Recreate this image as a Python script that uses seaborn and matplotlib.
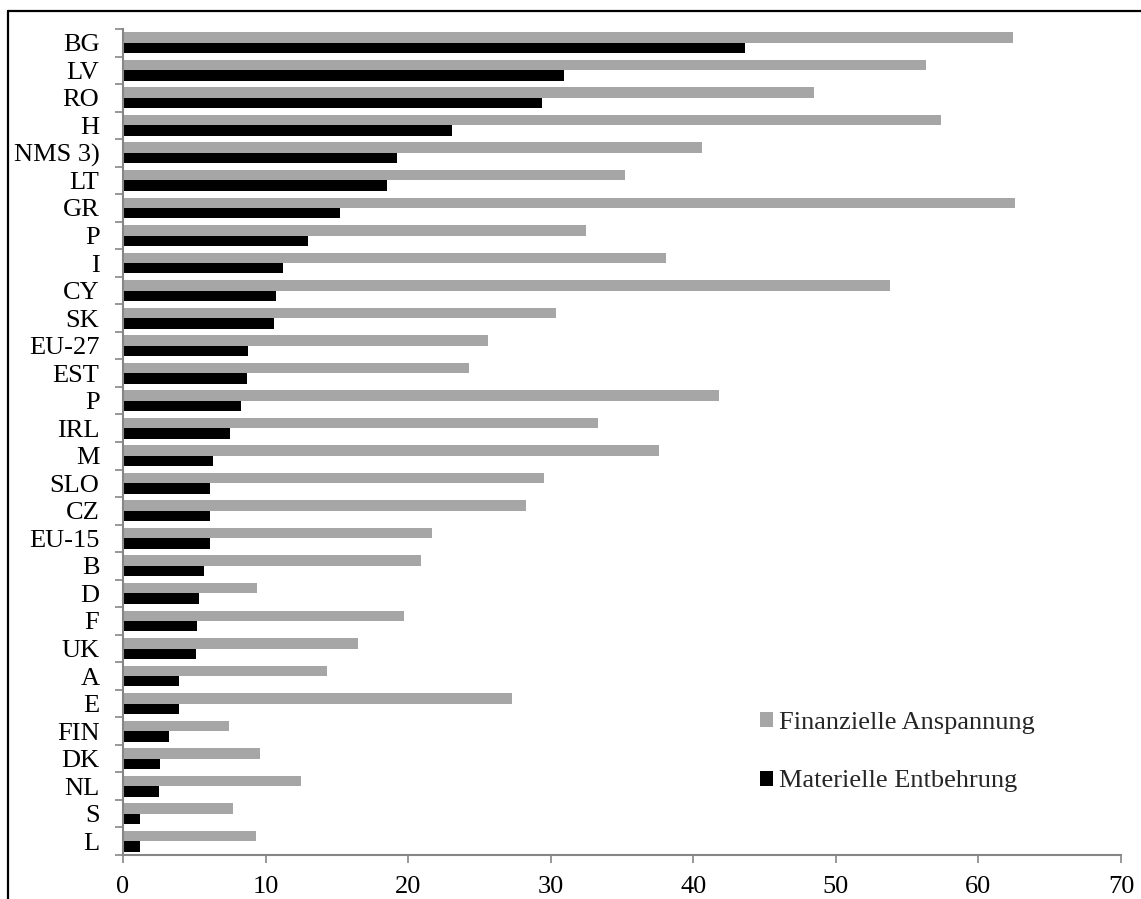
import numpy as np
import pandas as pd
import matplotlib
matplotlib.use("Agg")
import matplotlib.pyplot as plt
import seaborn as sns
from matplotlib.patches import Patch
from matplotlib.lines import Line2D

# Countries from top to bottom
countries = ["BG", "LV", "RO", "H", "NMS 3)", "LT", "GR", "P", "I", "CY",
             "SK", "EU-27", "EST", "P", "IRL", "M", "SLO", "CZ", "EU-15", "B",
             "D", "F", "UK", "A", "E", "FIN", "DK", "NL", "S", "L"]

# Shares in percent
finanzielle = [62.4, 56.3, 48.5, 57.4, 40.6, 35.2, 62.6, 32.5, 38.1, 53.8,
               30.4, 25.6, 24.3, 41.8, 33.3, 37.6, 29.5, 28.3, 21.7, 20.9,
               9.4, 19.7, 16.5, 14.3, 27.3, 7.4, 9.6, 12.5, 7.7, 9.3]
materielle = [43.6, 30.9, 29.4, 23.1, 19.2, 18.5, 15.2, 13.0, 11.2, 10.7,
              10.6, 8.8, 8.7, 8.3, 7.5, 6.3, 6.1, 6.1, 6.1, 5.7,
              5.3, 5.2, 5.1, 3.9, 3.9, 3.2, 2.6, 2.5, 1.2, 1.2]

series_names = ["Finanzielle Anspannung", "Materielle Entbehrung"]
x_ticks = [0, 10, 20, 30, 40, 50, 60, 70]

GRAY = "#a6a6a6"
BLACK = "#000000"
AXIS_GRAY = "#868686"
FS = 19

sns.set_theme(style="white")
plt.rcParams["font.family"] = ["Liberation Serif", "DejaVu Serif"]

n = len(countries)
df = pd.DataFrame({
    "pos": list(range(n)) * 2,
    "wert": finanzielle + materielle,
    "reihe": [series_names[0]] * n + [series_names[1]] * n,
})

W, H = 1141, 899
fig = plt.figure(figsize=(W / 100, H / 100), dpi=100)
ax = fig.add_axes([123 / W, (H - 855) / H, (1121 - 123) / W, (855 - 29) / H])

sns.barplot(data=df, x="wert", y="pos", hue="reihe", orient="h",
            hue_order=series_names, palette=[GRAY, BLACK], width=0.76,
            saturation=1, errorbar=None, linewidth=0, ax=ax)

if ax.get_legend() is not None:
    ax.get_legend().remove()

ax.set_xlim(0, 70)
ax.set_ylim(n - 0.5, -0.5)
ax.set_xlabel("")
ax.set_ylabel("")

# category labels centred, tick marks between categories
ax.set_yticks(range(n))
ax.set_yticklabels(countries)
ax.set_yticks(np.arange(-0.5, n, 1.0), minor=True)
ax.tick_params(axis="y", which="major", length=0, pad=17, labelsize=FS,
               labelcolor="black")
ax.tick_params(axis="y", which="minor", left=True, length=6, width=1.2,
               color=AXIS_GRAY, direction="out")

ax.set_xticks(x_ticks)
ax.set_xticklabels([str(v) for v in x_ticks])
ax.tick_params(axis="x", which="major", bottom=True, length=6, width=1.2,
               color=AXIS_GRAY, direction="out", pad=9, labelsize=FS,
               labelcolor="black")

for side in ["top", "right"]:
    ax.spines[side].set_visible(False)
for side in ["left", "bottom"]:
    ax.spines[side].set_visible(True)
    ax.spines[side].set_color(AXIS_GRAY)
    ax.spines[side].set_linewidth(1.5)

handles = [Patch(facecolor=GRAY, edgecolor="none"),
           Patch(facecolor=BLACK, edgecolor="none")]
fig.legend(handles, series_names, loc="upper left",
           bbox_to_anchor=(760 / W, 1 - 712 / H), frameon=False,
           fontsize=FS, handlelength=0.5, handleheight=0.5,
           handletextpad=0.23, labelspacing=1.38, borderpad=0,
           borderaxespad=0)

# outer frame (top and left edges)
fig.add_artist(Line2D([8 / W, 1.0], [1 - 11 / H, 1 - 11 / H],
                      transform=fig.transFigure, color="black", lw=1.6))
fig.add_artist(Line2D([8 / W, 8 / W], [0.0, 1 - 11 / H],
                      transform=fig.transFigure, color="black", lw=1.6))

fig.savefig("out.png", dpi=100, facecolor="white")
